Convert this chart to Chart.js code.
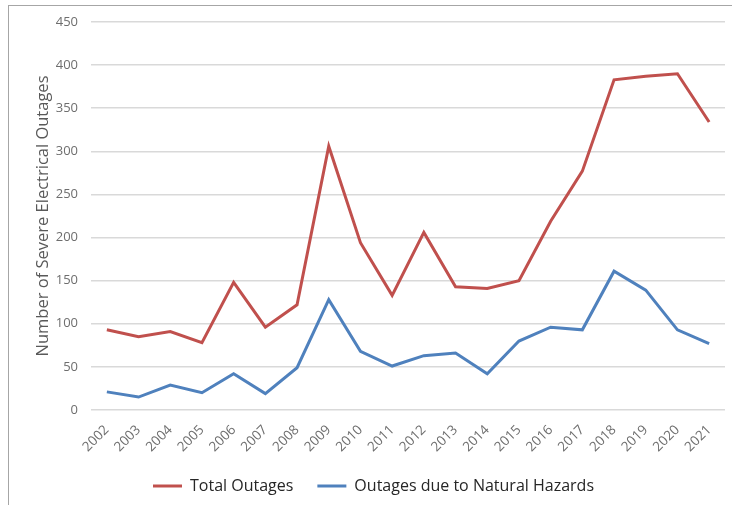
<!DOCTYPE html>
<html>
<head>
<meta charset="utf-8">
<script src="https://cdn.jsdelivr.net/npm/chart.js@4/dist/chart.umd.min.js"></script>
<style>
  body { margin: 0; background: #fff; }
  #wrap { position: relative; width: 732px; height: 505px; }
  #frame { position: absolute; left: 8px; top: 5px; right: 0; bottom: 0;
           border-left: 1px solid #a6a6a6; border-top: 1px solid #a6a6a6; }
  canvas { position: absolute; left: 0; top: 0; }
</style>
</head>
<body>
<div id="wrap">
  <div id="frame"></div>
  <canvas id="chart" width="732" height="505"></canvas>
</div>
<script>
const years = ["2002", "2003", "2004", "2005", "2006", "2007", "2008", "2009", "2010", "2011",
               "2012", "2013", "2014", "2015", "2016", "2017", "2018", "2019", "2020", "2021"]
const totalOutages = [93, 85, 91, 78, 148, 96, 122, 306, 194, 133,
                      206, 143, 141, 150, 219, 277, 383, 387, 390, 334]
const naturalHazards = [21, 15, 29, 20, 42, 19, 49, 128, 68, 51,
                        63, 66, 42, 80, 96, 93, 161, 139, 93, 77]

const tickColor = "#6e6e6e"
const gridColor = "#d9d9d9"

new Chart(
    document.getElementById("chart").getContext("2d"),
    {
        type: "line",
        data: {
            labels: years,
            datasets: [
                {
                    label: "Total Outages",
                    data: totalOutages,
                    borderColor: "#c0504d",
                    backgroundColor: "#c0504d",
                    borderWidth: 3,
                    pointRadius: 0,
                    tension: 0
                },
                {
                    label: "Outages due to Natural Hazards",
                    data: naturalHazards,
                    borderColor: "#4f81bd",
                    backgroundColor: "#4f81bd",
                    borderWidth: 3,
                    pointRadius: 0,
                    tension: 0
                }
            ]
        },
        options: {
            responsive: false,
            animation: false,
            layout: { padding: { left: 22, right: 7, top: 22, bottom: 1 } },
            scales: {
                x: {
                    offset: true,
                    grid: { display: false },
                    border: { display: false },
                    ticks: {
                        color: tickColor,
                        font: { family: "Open Sans", size: 13.5 },
                        minRotation: 45,
                        maxRotation: 45,
                        padding: 4
                    },
                    afterFit: s => { s.height = 44 }
                },
                y: {
                    min: 0,
                    max: 450,
                    grid: { color: gridColor, lineWidth: 1.5, drawTicks: false },
                    border: { display: false },
                    ticks: {
                        stepSize: 50,
                        color: tickColor,
                        padding: 13,
                        font: { family: "Open Sans", size: 13 }
                    },
                    title: {
                        display: true,
                        text: "Number of Severe Electrical Outages",
                        color: "#595959",
                        padding: { top: 11, bottom: 0 },
                        font: { family: "Open Sans", size: 16.5 }
                    },
                    afterFit: s => { s.width = 69 }
                }
            },
            plugins: {
                legend: {
                    position: "bottom",
                    labels: {
                        usePointStyle: true,
                        pointStyle: "line",
                        pointStyleWidth: 29,
                        color: "#262626",
                        padding: 24,
                        font: { family: "Open Sans", size: 16 }
                    }
                },
                tooltip: { enabled: false }
            }
        }
    }
)
</script>
</body>
</html>
